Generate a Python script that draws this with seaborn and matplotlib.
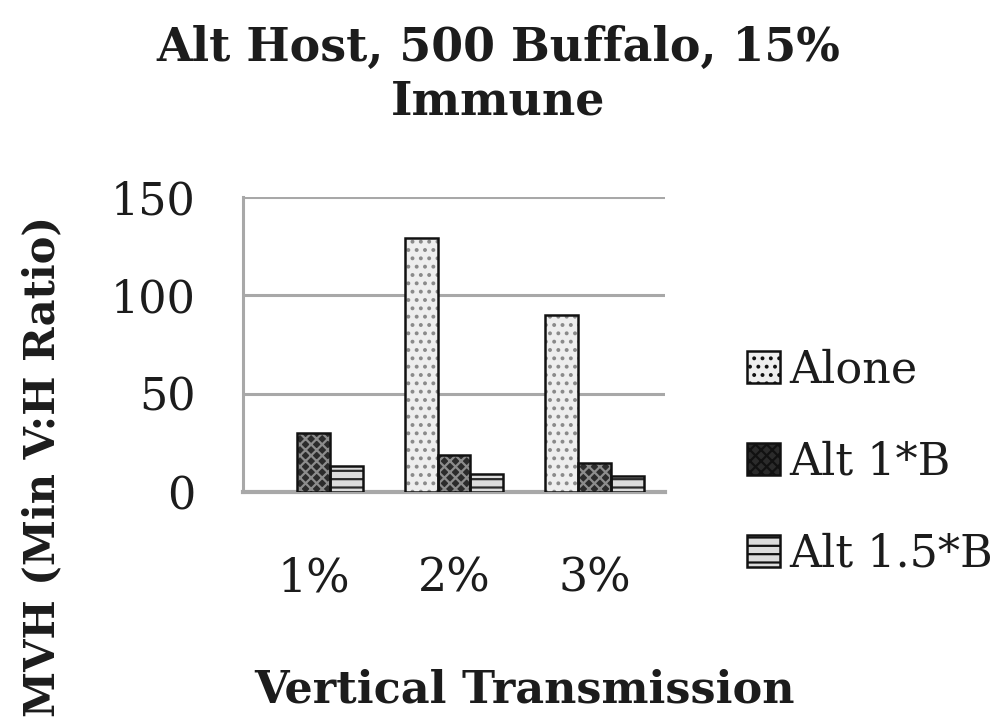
import matplotlib
matplotlib.use("Agg")
import matplotlib.pyplot as plt
from matplotlib.patches import Patch, Rectangle
import seaborn as sns
import pandas as pd

# Data
categories = ["1%", "2%", "3%"]
series_names = ["Alone", "Alt 1*B", "Alt 1.5*B"]
alone = [0, 129, 90]
alt_1b = [30, 19, 15]
alt_15b = [13, 9, 8]
y_ticks = [0, 50, 100, 150]

df = pd.DataFrame({
    "Vertical Transmission": categories * 3,
    "Series": [s for s in series_names for _ in categories],
    "MVH": alone + alt_1b + alt_15b,
})

sns.set_theme(style="white")
plt.rcParams["font.family"] = ["DejaVu Serif"]
plt.rcParams["hatch.linewidth"] = 1.6

TEXT = "#1c1c1c"
GRID = "#a8a8a8"

# fill, hatch pattern, hatch colour per series
styles = {
    "Alone": ("#eeeeee", "..", "#8a8a8a"),
    "Alt 1*B": ("#2b2b2b", "xxx", "#8c8c8c"),
    "Alt 1.5*B": ("#dcdcdc", "--", "#2a2a2a"),
}

fig = plt.figure(figsize=(9.96, 7.19), dpi=100)
ax = fig.add_axes([243 / 996, 1 - 492 / 719, 422 / 996, 295 / 719])

sns.barplot(data=df, x="Vertical Transmission", y="MVH", hue="Series",
            hue_order=series_names, order=categories, width=0.7,
            ax=ax, legend=False, zorder=3)

# style each hue's bars; hatch is drawn in the edge colour, so add a black outline on top
for container, name in zip(ax.containers, series_names):
    face, hatch, hcol = styles[name]
    for bar in container:
        bar.set_facecolor(face)
        bar.set_hatch(hatch)
        bar.set_edgecolor(hcol)
        bar.set_linewidth(0)
        if bar.get_height() > 0:
            ax.add_patch(Rectangle(bar.get_xy(), bar.get_width(), bar.get_height(),
                                   fill=False, edgecolor="#111111", linewidth=1.8,
                                   zorder=4))

ax.set_ylim(0, 150)
ax.set_yticks(y_ticks)
ax.set_xlim(-0.5, 2.5)
ax.yaxis.grid(True, color=GRID, linewidth=2.2, zorder=0)
ax.xaxis.grid(False)
for side in ["top", "right"]:
    ax.spines[side].set_visible(False)
ax.spines["left"].set_color(GRID)
ax.spines["left"].set_linewidth(2.2)
ax.spines["bottom"].set_color(GRID)
ax.spines["bottom"].set_linewidth(3)

ax.tick_params(axis="y", length=0, labelsize=32, labelcolor=TEXT, pad=34)
ax.tick_params(axis="x", length=0, labelsize=33, labelcolor=TEXT, pad=46)

ax.set_xlabel("Vertical Transmission", fontsize=32, fontweight="bold", color=TEXT)
ax.xaxis.set_label_coords(0.666, -0.671)
ax.xaxis.label.set_va("center")
ax.set_ylabel("MVH (Min V:H Ratio)", fontsize=30, fontweight="bold", color=TEXT)
ax.yaxis.set_label_coords(-0.476, 0.088)
ax.yaxis.label.set_va("center")

fig.text(0.5, 1 - 75 / 719, "Alt Host, 500 Buffalo, 15%\nImmune", ha="center",
         va="center", fontsize=33, fontweight="bold", color=TEXT, linespacing=1.2)

handles = [Patch(facecolor=styles[n][0], hatch=styles[n][1], edgecolor="#111111",
                 linewidth=1.8) for n in series_names]
fig.legend(handles, series_names, loc="center left",
           bbox_to_anchor=(747 / 996, 1 - 462 / 719), frameon=False,
           fontsize=32, handlelength=0.74, handleheight=0.74,
           handletextpad=0.22, labelspacing=1.1, labelcolor=TEXT,
           borderpad=0, borderaxespad=0)

fig.savefig("out.png", dpi=100)
